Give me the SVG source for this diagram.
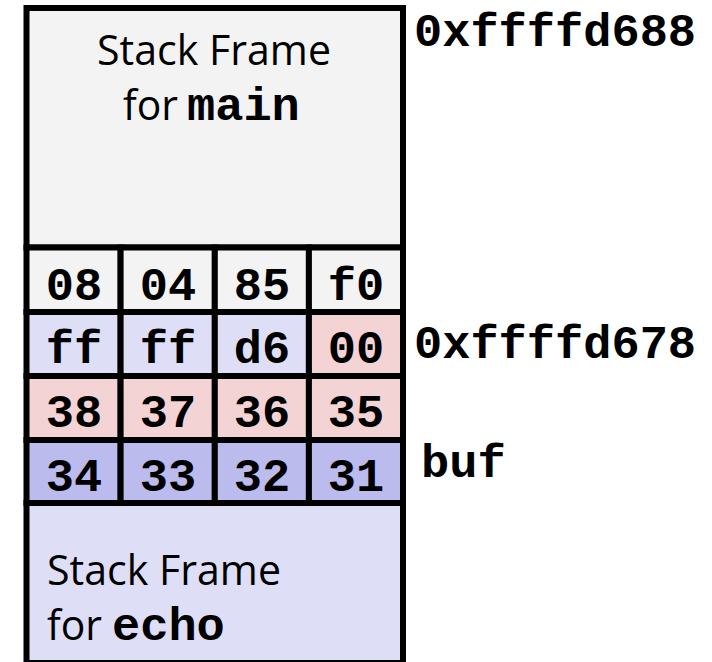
<svg xmlns="http://www.w3.org/2000/svg" width="712" height="662" viewBox="0 0 712 662">
<style>
.cell{stroke:#000;stroke-width:6}
.g{fill:#f3f3f3}
.l{fill:#dedef6}
.p{fill:#f3d3d3}
.b{fill:#bbbbee}
.hex{font-family:"Liberation Mono","Courier New",monospace;font-weight:bold;font-size:47px;fill:#000;text-anchor:middle}
.mono{font-family:"Liberation Mono","Courier New",monospace;font-weight:bold;font-size:47px;fill:#000}
.sans{font-family:"Open Sans","Noto Sans",sans-serif;font-size:42px;fill:#000}
</style>
<rect width="712" height="662" fill="#fff"/>
<g id="frame-main">
<rect class="cell g" x="26.5" y="8" width="376.5" height="239.5"/>
<text class="sans" x="97" y="65" textLength="234" lengthAdjust="spacingAndGlyphs">Stack Frame</text>
<text class="sans" x="123" y="120" textLength="55" lengthAdjust="spacingAndGlyphs">for</text>
<text class="mono" x="187" y="120">main</text>
</g>
<g id="row-ret">
<rect class="cell g" x="26.5" y="247.5" width="94.1" height="64.5"/>
<rect class="cell g" x="120.6" y="247.5" width="94.2" height="64.5"/>
<rect class="cell g" x="214.8" y="247.5" width="94.1" height="64.5"/>
<rect class="cell g" x="308.9" y="247.5" width="94.1" height="64.5"/>
<text class="hex" x="74" y="300">08</text>
<text class="hex" x="168" y="300">04</text>
<text class="hex" x="262" y="300">85</text>
<text class="hex" x="356" y="300">f0</text>
</g>
<g id="row-ebp">
<rect class="cell l" x="26.5" y="312" width="94.1" height="64"/>
<rect class="cell l" x="120.6" y="312" width="94.2" height="64"/>
<rect class="cell l" x="214.8" y="312" width="94.1" height="64"/>
<rect class="cell p" x="308.9" y="312" width="94.1" height="64"/>
<text class="hex" x="74" y="363">ff</text>
<text class="hex" x="168" y="363">ff</text>
<text class="hex" x="262" y="363">d6</text>
<text class="hex" x="356" y="363">00</text>
</g>
<g id="row-buf-hi">
<rect class="cell p" x="26.5" y="376" width="94.1" height="64"/>
<rect class="cell p" x="120.6" y="376" width="94.2" height="64"/>
<rect class="cell p" x="214.8" y="376" width="94.1" height="64"/>
<rect class="cell p" x="308.9" y="376" width="94.1" height="64"/>
<text class="hex" x="74" y="427">38</text>
<text class="hex" x="168" y="427">37</text>
<text class="hex" x="262" y="427">36</text>
<text class="hex" x="356" y="427">35</text>
</g>
<g id="row-buf-lo">
<rect class="cell b" x="26.5" y="440" width="94.1" height="63"/>
<rect class="cell b" x="120.6" y="440" width="94.2" height="63"/>
<rect class="cell b" x="214.8" y="440" width="94.1" height="63"/>
<rect class="cell b" x="308.9" y="440" width="94.1" height="63"/>
<text class="hex" x="74" y="491">34</text>
<text class="hex" x="168" y="491">33</text>
<text class="hex" x="262" y="491">32</text>
<text class="hex" x="356" y="491">31</text>
</g>
<g id="frame-echo">
<rect class="cell l" x="26.5" y="503" width="376.5" height="160"/>
<text class="sans" x="47" y="585" textLength="234" lengthAdjust="spacingAndGlyphs">Stack Frame</text>
<text class="sans" x="47" y="640" textLength="55" lengthAdjust="spacingAndGlyphs">for</text>
<text class="mono" x="112" y="640">echo</text>
</g>
<g id="labels">
<text class="mono" x="414" y="46">0xffffd688</text>
<text class="mono" x="414" y="358">0xffffd678</text>
<text class="mono" x="421" y="477">buf</text>
</g>
<g id="connectors"></g>
</svg>
